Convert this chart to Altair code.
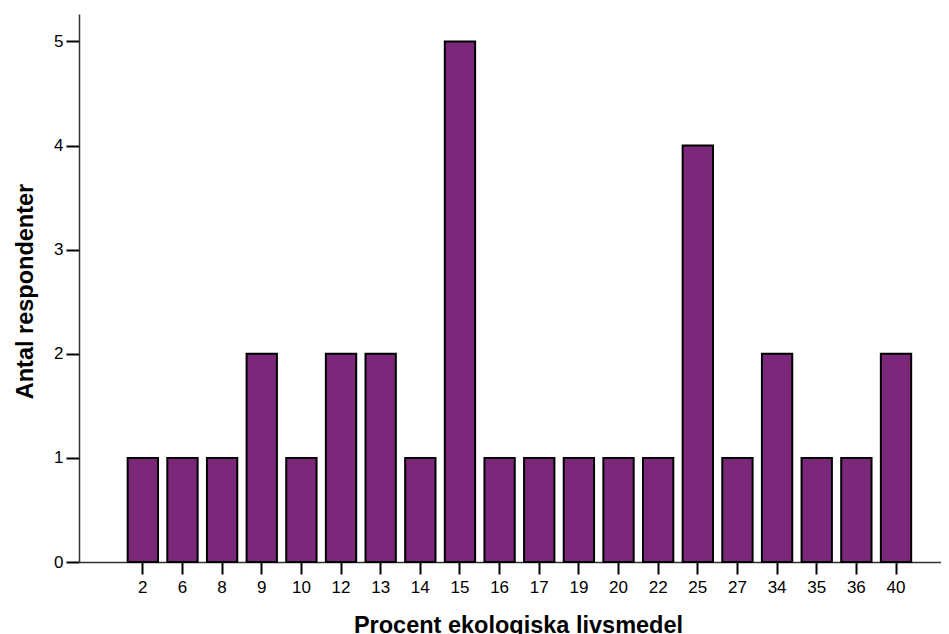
import altair as alt
import pandas as pd

categories = ["2", "6", "8", "9", "10", "12", "13", "14", "15", "16",
              "17", "19", "20", "22", "25", "27", "34", "35", "36", "40"]
counts = [1, 1, 1, 2, 1, 2, 2, 1, 5, 1, 1, 1, 1, 1, 4, 1, 2, 1, 1, 2]

df = pd.DataFrame({"procent": categories, "antal": counts})

chart = alt.Chart(df).mark_bar(
    color="#7B287A", stroke="black", strokeWidth=2
).encode(
    x=alt.X("procent:N", sort=categories,
            title="Procent ekologiska livsmedel",
            scale=alt.Scale(paddingInner=0.235, paddingOuter=0.99, align=0.62),
            axis=alt.Axis(labelAngle=0, labelFontSize=17, labelColor="black",
                          labelFont="Liberation Sans", labelPadding=5,
                          tickSize=12, tickWidth=2, tickColor="black",
                          domainColor="#333333", domainWidth=1.5,
                          titleFontSize=23.5, titleFont="Liberation Sans",
                          titleFontWeight="bold", titleColor="black",
                          titleX=439, titleY=70, titleAlign="center",
                          titleBaseline="alphabetic")),
    y=alt.Y("antal:Q", title="Antal respondenter",
            scale=alt.Scale(domain=[0, 5.264], nice=False, zero=True),
            axis=alt.Axis(values=[0, 1, 2, 3, 4, 5], format="d", grid=False,
                          labelFontSize=17, labelColor="black",
                          labelFont="Liberation Sans", labelPadding=3,
                          tickSize=13, tickWidth=2, tickColor="black",
                          domainColor="#333333", domainWidth=1.5,
                          titleFontSize=23.5, titleFont="Liberation Sans",
                          titleFontWeight="bold", titleColor="black",
                          titleX=-47, titleY=277, titleAngle=270,
                          titleAlign="center", titleBaseline="alphabetic")),
).properties(
    width=862, height=548,
    autosize=alt.AutoSizeParams(type="none"),
    padding={"left": 71, "top": 6, "right": 0, "bottom": 72},
).configure_view(stroke=None)

chart.save("out.html", embed_options={"renderer": "svg", "actions": False})
